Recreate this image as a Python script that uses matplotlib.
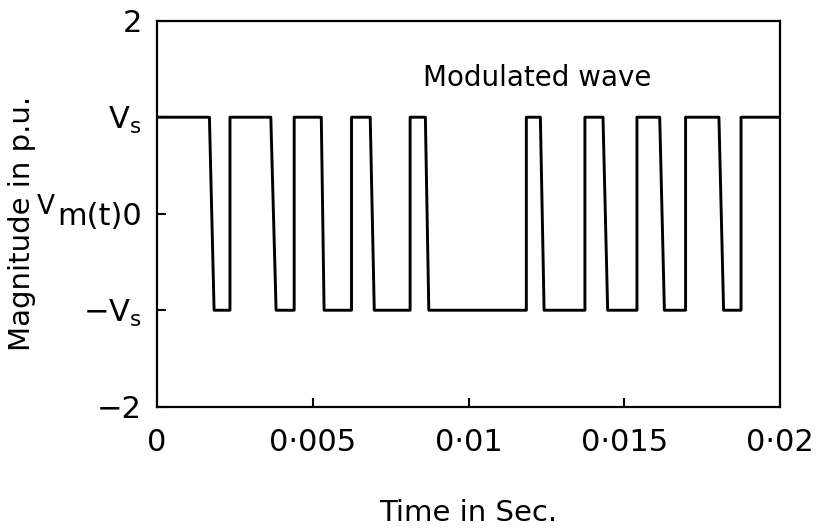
import numpy as np
import matplotlib
matplotlib.use("Agg")
import matplotlib.pyplot as plt

# switching instants (s)
fall_top = [0.00168, 0.00365, 0.00527, 0.00684, 0.00861, 0.01230, 0.01431, 0.01613, 0.01803]
fall_bot = [0.00183, 0.00382, 0.00536, 0.00697, 0.00872, 0.01242, 0.01446, 0.01628, 0.01818]
rise = [0.00234, 0.00440, 0.00624, 0.00812, 0.01185, 0.01373, 0.01540, 0.01696, 0.01874]
vs = 1.0
t_end = 0.02

xticks = [0, 0.005, 0.01, 0.015, 0.02]
xticklabels = ['0', '0\u00b7005', '0\u00b701', '0\u00b7015', '0\u00b702']
yticks = [-2, -1, 0, 1, 2]
yticklabels = ['\u22122', '\u2212$\\mathregular{V_s}$', 'm(t)0', '$\\mathregular{V_s}$', '2']

# build the step wave
t = [0.0]
v = [vs]
for a, b, r in zip(fall_top, fall_bot, rise):
    t += [a, b, r, r]
    v += [vs, -vs, -vs, vs]
t.append(t_end)
v.append(vs)

fig = plt.figure(figsize=(8.31, 5.31), dpi=100)
ax = fig.add_axes([0.189, 0.234, 0.750, 0.727])
ax.plot(t, v, color='black', lw=2.1, solid_joinstyle='round')

ax.set_xlim(0, 0.02)
ax.set_ylim(-2, 2)
ax.set_xticks(xticks)
ax.set_xticklabels(xticklabels)
ax.set_yticks(yticks)
ax.set_yticklabels(yticklabels)
ax.tick_params(direction='in', length=6.5, width=1.5, labelsize=22)
ax.tick_params(axis='x', pad=15)
ax.tick_params(axis='y', pad=11)
for s in ax.spines.values():
    s.set_linewidth(1.6)

# the raised "V" in front of m(t)0
ax.annotate('V', xy=(0, 0), xycoords=('axes fraction', 'data'),
            xytext=(-73.5, 5), textcoords='offset points',
            ha='right', va='center', fontsize=19)

ax.text(0.0122, 1.41, 'Modulated wave', fontsize=20, ha='center', va='center')
fig.text(0.563, 1 - 513 / 531, 'Time in Sec.', fontsize=21, ha='center', va='center')
ax.set_ylabel('Magnitude in p.u.', fontsize=21)
ax.yaxis.set_label_coords(-121 / 623, 0.474)

fig.savefig('out.png', dpi=100)
